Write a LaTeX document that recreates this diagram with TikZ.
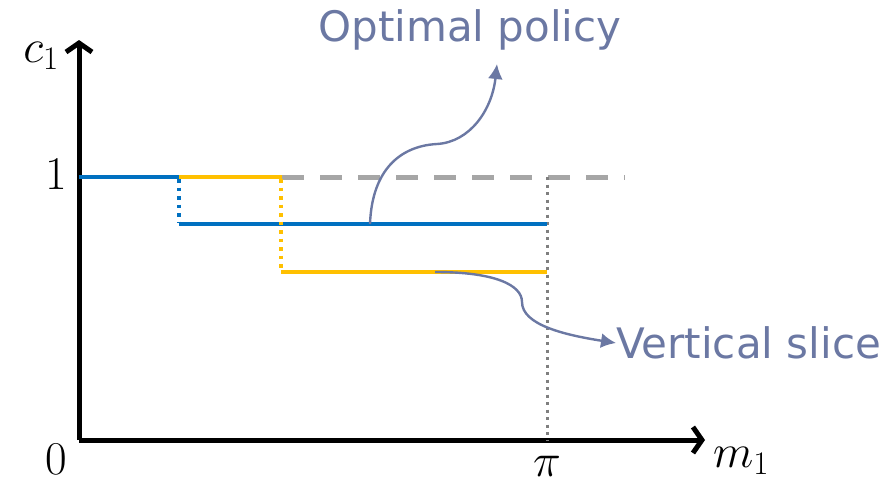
\RequirePackage{fix-cm}
\documentclass[tikz,border=0pt]{standalone}
\usepackage{fontspec}
\usepackage{amsmath}
\usetikzlibrary{arrows.meta, positioning, calc}

\newfontfamily\calloutfont{DejaVu Sans}
\definecolor{stepblue}{HTML}{0070C0}
\definecolor{stepyellow}{HTML}{FFC000}
\definecolor{limitgray}{HTML}{A6A6A6}
\definecolor{slicegray}{HTML}{7F7F7F}
\definecolor{callout}{HTML}{6B78A3}

\tikzset{
  axis/.style={line width=5pt, -{Straight Barb[length=9pt, width=26pt, line width=5pt]}},
  policy/.style={line width=4pt},
  jump/.style={line width=3.5pt, dash pattern=on 3.5pt off 5pt},
  calloutline/.style={callout, line width=2.4pt, -{Latex[length=15pt, width=15pt]}},
  callouttext/.style={text=callout, font=\calloutfont\fontsize{42}{50}\selectfont, inner sep=0pt},
  mathlabel/.style={font=\fontsize{47}{56}\selectfont, inner sep=0pt},
}

\begin{document}
\begin{tikzpicture}[x=1pt, y=-1pt]
\useasboundingbox (0,0) rectangle (890,490);

% 座標軸
\coordinate (O) at (79,440);
\coordinate (ytip) at (79,40);
\coordinate (xtip) at (705,440);
\draw[axis] (O) -- (ytip);
\draw[axis] (O) -- (xtip);

% 軸のラベル
\node[mathlabel] (clabel) at (41,56) {$c_1$};
\node[mathlabel] (one) at (56,174) {$1$};
\node[mathlabel] (zero) at (56,459) {$0$};
\node[mathlabel] (pilabel) at (547,466) {$\pi$};
\node[mathlabel] (mlabel) at (741,461) {$m_1$};

% 上限と縦のスライス
\draw[limitgray, line width=5pt, dash pattern=on 22pt off 16pt] (282,177) -- (625,177);
\draw[slicegray, line width=3pt, dash pattern=on 3pt off 4.5pt] (547,177) -- (547,440);

% 階段状の方策
\draw[policy, stepblue] (79,177) -- (179,177);
\draw[jump, stepblue] (179,179) -- (179,222);
\draw[policy, stepblue] (179,224) -- (547,224);
\draw[policy, stepyellow] (179,177) -- (282,177);
\draw[jump, stepyellow] (281,179) -- (281,270);
\draw[policy, stepyellow] (281,272) -- (547,272);

% 説明の矢印
\node[callouttext] (opt) at (470,30) {Optimal policy};
\node[callouttext, anchor=west] (vslice) at (616,343) {Vertical slice};
\coordinate (optfoot) at (370,224);
\coordinate (optTip) at (497,64);
\coordinate (slicefoot) at (435,272);
\draw[calloutline] (optfoot) .. controls (372,170) and (400,146) .. (437,144)
  .. controls (470,142) and (492,110) .. (optTip);
\draw[calloutline] (slicefoot) .. controls (495,272) and (522,285) .. (522,302)
  .. controls (522,325) and (565,335) .. (vslice.west);

\end{tikzpicture}
\end{document}
